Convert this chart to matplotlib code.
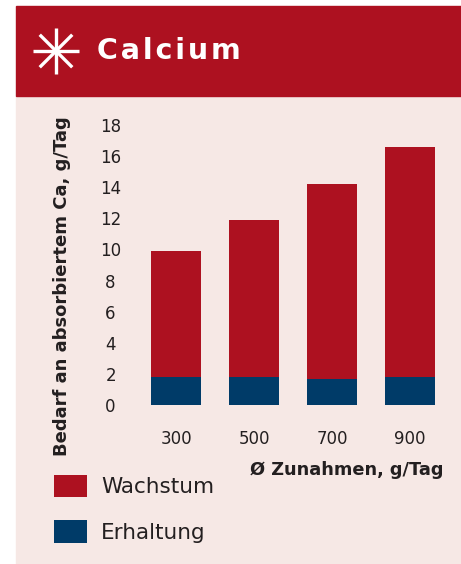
import numpy as np
import matplotlib.pyplot as plt
from matplotlib.patches import Rectangle
from matplotlib.lines import Line2D

# Daten
zunahmen = ["300", "500", "700", "900"]
erhaltung = [1.8, 1.8, 1.7, 1.8]
wachstum = [8.1, 10.1, 12.5, 14.8]
y_ticks = [0, 2, 4, 6, 8, 10, 12, 14, 16, 18]

ROT = "#AD1120"
BLAU = "#003B68"
HINTERGRUND = "#F6E8E5"
TEXT = "#231F20"

W, H = 461, 564
fig = plt.figure(figsize=(W / 100, H / 100), dpi=100)
plt.rcParams['font.family'] = ['DejaVu Sans']

def fx(px):
    return px / W

def fy(py):
    return 1 - py / H

# Hintergrundfläche und roter Kopf
fig.patches.append(Rectangle((fx(16), 0), 1 - fx(16), fy(96), transform=fig.transFigure,
                             color=HINTERGRUND, zorder=-5))
fig.patches.append(Rectangle((fx(16), fy(96)), 1 - fx(16), fy(6) - fy(96),
                             transform=fig.transFigure, color=ROT, zorder=-5))

# Stern-Symbol
cx, cy, r = 56, 51, 23
for ang in range(0, 360, 45):
    a = np.deg2rad(ang)
    fig.lines.append(Line2D([fx(cx), fx(cx + r * np.cos(a))],
                            [fy(cy), fy(cy - r * np.sin(a))],
                            transform=fig.transFigure, color="white", lw=2.4,
                            solid_capstyle="butt"))

fig.text(fx(97), fy(51), "C\u200aa\u200al\u200ac\u200ai\u200au\u200am", color="white",
         fontsize=20.5, fontweight="bold", ha="left", va="center")

# Diagramm
left, right = 137, 449
bottom, top = 405, 125
ax = fig.add_axes([fx(left), fy(bottom), fx(right) - fx(left), fy(top) - fy(bottom)])
ax.set_facecolor("none")
x = np.arange(len(zunahmen))
b1 = ax.bar(x, erhaltung, width=0.64, color=BLAU, label="Erhaltung")
b2 = ax.bar(x, wachstum, width=0.64, bottom=erhaltung, color=ROT, label="Wachstum")
ax.set_xlim(-0.5, 3.5)
ax.set_ylim(0, 18)
ax.set_yticks(y_ticks)
ax.set_xticks(x)
ax.set_xticklabels(zunahmen)
for s in ax.spines.values():
    s.set_visible(False)
ax.tick_params(axis="both", length=0, labelsize=12, colors=TEXT)
ax.tick_params(axis="y", pad=19)
ax.tick_params(axis="x", pad=18)
for lbl in ax.get_yticklabels():
    lbl.set_ha("center")

fig.text(fx(62), fy(286), "Bedarf an absorbiertem Ca, g/Tag", rotation=90,
         ha="center", va="center", fontsize=13, fontweight="bold", color=TEXT)
fig.text(fx(443), fy(470), "Ø Zunahmen, g/Tag", ha="right", va="center",
         fontsize=12.8, fontweight="bold", color=TEXT)

leg = fig.legend([b2, b1], ["Wachstum", "Erhaltung"], loc="upper left",
                 bbox_to_anchor=(fx(45), fy(466)), frameon=False, fontsize=15.5,
                 handlelength=1.55, handleheight=1.25, handletextpad=0.65,
                 labelspacing=1.05, borderaxespad=0)
for t in leg.get_texts():
    t.set_color(TEXT)

fig.savefig("out.png", dpi=100)
